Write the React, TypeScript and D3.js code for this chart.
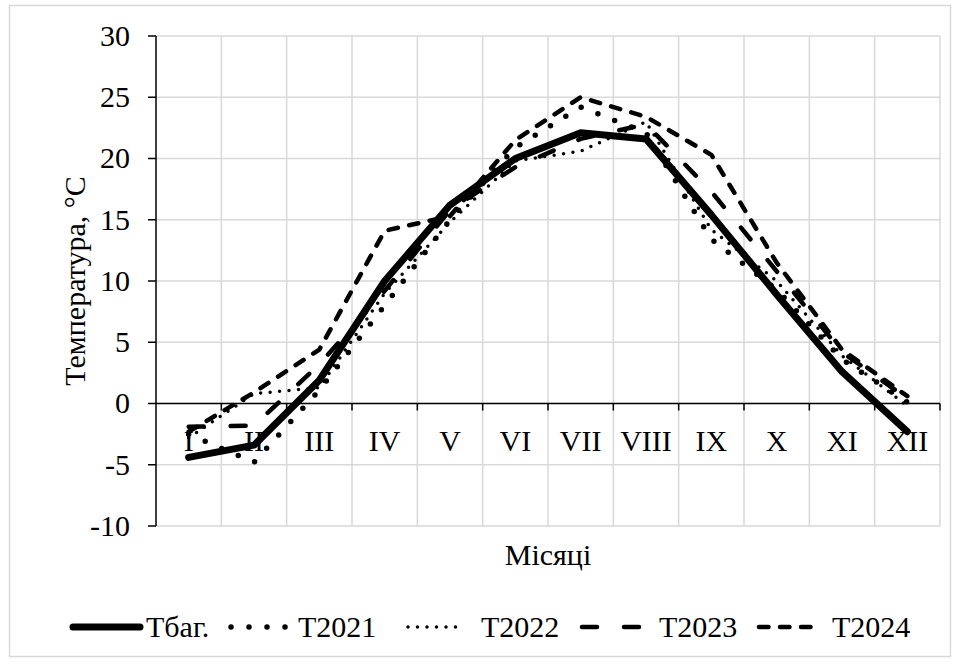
import React from 'react';
import * as d3 from 'd3';

const months = ['I', 'II', 'III', 'IV', 'V', 'VI', 'VII', 'VIII', 'IX', 'X', 'XI', 'XII'];
const tBag = [-4.4, -3.4, 1.9, 10.0, 16.2, 20.0, 22.1, 21.6, 15.4, 8.9, 2.6, -2.3];
const t2021 = [-2.5, -4.8, 1.1, 8.0, 15.0, 20.9, 24.2, 22.1, 13.4, 9.3, 3.6, 0.1];
const t2022 = [-2.8, 0.8, 1.3, 9.0, 14.8, 19.8, 20.6, 23.0, 14.2, 10.0, 3.9, -0.2];
const t2023 = [-1.9, -1.8, 3.2, 9.2, 15.8, 19.3, 21.6, 22.8, 17.3, 10.8, 4.2, 0.4];
const t2024 = [-2.3, 0.9, 4.4, 14.1, 15.3, 21.5, 25.0, 23.4, 20.3, 11.5, 4.4, 0.6];
const yTicks = [-10, -5, 0, 5, 10, 15, 20, 25, 30];
const seriesNames = ['Тбаг.', 'Т2021', 'Т2022', 'Т2023', 'Т2024'];

const FONT = '"Liberation Serif", "Times New Roman", serif';
const FS = 30;

const styles = [
  { width: 7, dash: undefined as string | undefined },
  { width: 5.5, dash: '0 18' },
  { width: 3.5, dash: '0 9.5' },
  { width: 4.5, dash: '15 27' },
  { width: 4.5, dash: '9.5 11.5' },
];

const legendPos = [
  { s0: 73, s1: 140, tx: 146 },
  { s0: 231, s1: 290, tx: 298 },
  { s0: 408, s1: 460, tx: 481 },
  { s0: 582, s1: 645, tx: 659 },
  { s0: 759, s1: 822, tx: 832 },
];

const txt = { fontFamily: FONT, fontSize: FS, fill: '#000' } as React.CSSProperties;

export default function App() {
  const W = 960, H = 664;
  const left = 156, right = 940, top = 36, bottom = 526;
  const x = d3.scaleBand<string>().domain(months).range([left, right]);
  const y = d3.scaleLinear().domain([-10, 30]).range([bottom, top]);
  const cx = (m: string) => (x(m) as number) + x.bandwidth() / 2;
  const data = [tBag, t2021, t2022, t2023, t2024];
  const line = d3.line<number>().x((_, i) => cx(months[i])).y((v) => y(v));
  const boundaries = months.map((m) => (x(m) as number) + x.bandwidth());

  return (
    <svg width={W} height={H} style={{ position: 'absolute', left: 0, top: 0 }}>
      <rect x={0} y={0} width={W} height={H} fill="#fff" />
      <rect x={9.5} y={5.5} width={941} height={651} fill="#fff" stroke="#d9d9d9" strokeWidth={1.5} />
      {yTicks.map((t) => (
        <line key={'gy' + t} x1={left} x2={right} y1={y(t)} y2={y(t)} stroke="#d9d9d9" strokeWidth={1.5} />
      ))}
      {boundaries.map((b, i) => (
        <line key={'gx' + i} x1={b} x2={b} y1={top} y2={bottom} stroke="#d9d9d9" strokeWidth={1.5} />
      ))}
      <line x1={left} x2={left} y1={top} y2={bottom} stroke="#000" strokeWidth={1.5} />
      {yTicks.map((t) => (
        <g key={'yt' + t}>
          <line x1={left - 8} x2={left} y1={y(t)} y2={y(t)} stroke="#000" strokeWidth={1.5} />
          <text x={left - 26} y={y(t)} dy="0.33em" textAnchor="end" style={txt}>
            {t}
          </text>
        </g>
      ))}
      <line x1={left} x2={right} y1={y(0)} y2={y(0)} stroke="#000" strokeWidth={1.5} />
      {boundaries.map((b, i) => (
        <line key={'xt' + i} x1={b} x2={b} y1={y(0)} y2={y(0) + 7} stroke="#000" strokeWidth={1.5} />
      ))}
      {months.map((m) => (
        <text key={'xl' + m} x={cx(m)} y={451} textAnchor="middle" style={txt}>
          {m}
        </text>
      ))}
      {data.map((d, i) => (
        <path
          key={'s' + i}
          d={line(d) || ''}
          fill="none"
          stroke="#000"
          strokeWidth={styles[i].width}
          strokeDasharray={styles[i].dash}
          strokeLinecap="round"
          strokeLinejoin="round"
        />
      ))}
      <text transform={`translate(75,${(top + bottom) / 2}) rotate(-90)`} textAnchor="middle" dy="0.33em" style={txt}>
        Температура, °С
      </text>
      <text x={548} y={555} dy="0.33em" textAnchor="middle" style={txt}>
        Місяці
      </text>
      {seriesNames.map((n, i) => (
        <g key={'lg' + i}>
          <line
            x1={legendPos[i].s0}
            x2={legendPos[i].s1}
            y1={627}
            y2={627}
            stroke="#000"
            strokeWidth={styles[i].width}
            strokeDasharray={styles[i].dash}
            strokeLinecap="round"
          />
          <text x={legendPos[i].tx} y={627} dy="0.33em" style={txt}>
            {n}
          </text>
        </g>
      ))}
    </svg>
  );
}
